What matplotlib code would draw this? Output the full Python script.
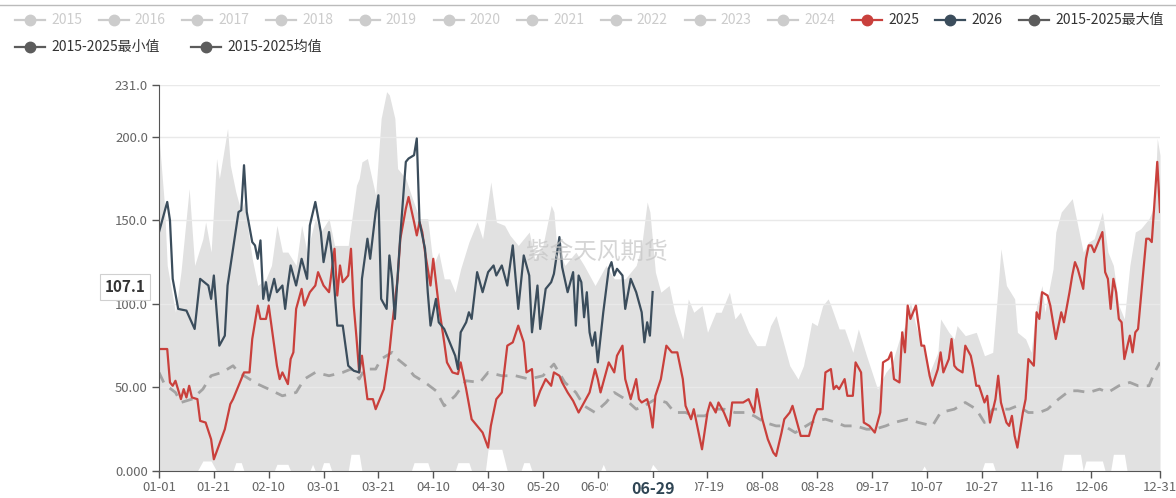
import matplotlib
matplotlib.use("Agg")
import matplotlib.pyplot as plt
from matplotlib.lines import Line2D
from matplotlib.patches import Rectangle
import numpy as np
import pandas as pd

plt.rcParams['font.family'] = ['Noto Sans CJK SC', 'DejaVu Sans']

# category axis: one leap year of month-day labels
dates = pd.date_range("2024-01-01", "2024-12-31").strftime("%m-%d").tolist()
tick_idx = list(range(0, 341, 20)) + [365]

y_ticks = [0, 50, 100, 150, 200, 231]
y_labels = ["0.000", "50.00", "100.0", "150.0", "200.0", "231.0"]

legend_years = ["2015", "2016", "2017", "2018", "2019", "2020", "2021", "2022", "2023", "2024"]

# 2025 (day index, value)
y2025_day = [0, 3, 4, 5, 6, 8, 9, 10, 11, 12, 14, 15, 17, 19, 20, 22, 24, 26, 27, 29, 31, 33, 34, 36, 37, 39,
             40, 41, 43, 44, 45, 47, 48, 49, 50, 52, 53, 55, 57, 58, 60, 62, 64, 65, 66, 67, 69, 70, 71, 72,
             73, 74, 76, 78, 79, 81, 82, 84, 85, 87, 88, 90, 91, 93, 94, 95, 96, 97, 99, 100, 102, 104, 105,
             107, 109, 110, 112, 114, 116, 118, 120, 121, 123, 125, 127, 129, 131, 133, 134, 136, 137, 139,
             141, 143, 144, 146, 147, 149, 151, 153, 155, 157, 159, 160, 161, 163, 164, 166, 167, 169, 170,
             172, 174, 175, 176, 178, 179, 180, 181, 183, 185, 187, 189, 191, 192, 194, 195, 198, 200, 201,
             203, 204, 206, 208, 209, 211, 213, 215, 217, 218, 220, 222, 224, 225, 227, 228, 230, 231, 233,
             234, 237, 239, 240, 242, 243, 245, 246, 247, 248, 250, 251, 253, 254, 256, 257, 259, 261, 263,
             264, 266, 267, 268, 270, 271, 272, 273, 274, 276, 278, 279, 281, 282, 284, 285, 286, 288, 289,
             290, 291, 293, 294, 296, 297, 298, 299, 301, 302, 303, 305, 306, 307, 309, 310, 311, 312, 313,
             315, 316, 317, 319, 320, 321, 322, 324, 325, 326, 327, 329, 330, 332, 333, 334, 335, 337, 338,
             339, 340, 341, 344, 345, 346, 347, 348, 349, 350, 351, 352, 354, 355, 356, 357, 360, 361, 362,
             364, 365]
y2025_val = [73, 73, 53, 51, 54, 43, 49, 44, 51, 44, 43, 30, 29, 19, 7, 16, 25, 40, 43, 51, 59, 59, 79, 99, 91, 91,
             99, 87, 63, 55, 59, 52, 67, 71, 97, 109, 99, 107, 111, 119, 111, 107, 133, 105, 123, 113, 117, 133, 99, 80,
             59, 69, 43, 43, 37, 45, 49, 71, 87, 115, 139, 157, 164, 149, 141, 149, 143, 131, 111, 127, 99, 77, 65,
             59, 58, 65, 49, 31, 27, 23, 14, 27, 43, 47, 75, 77, 87, 77, 59, 61, 39, 48,
             55, 51, 59, 57, 53, 47, 42, 35, 41, 47, 61, 55, 47, 59, 65, 59, 69, 75, 55,
             43, 55, 43, 41, 43, 37, 26, 45, 55, 75, 71, 71, 55, 39, 31, 37, 13, 35, 41,
             35, 41, 35, 27, 41, 41, 41, 43, 35, 49, 31, 19, 11, 9, 23, 31, 35, 39, 27,
             21, 21, 33, 37, 37, 59, 61, 49, 51, 49, 55, 45, 45, 65, 59, 29, 27, 23, 35,
             65, 67, 71, 55, 53, 83, 71, 99, 91, 99, 75, 75, 57, 51, 61, 71, 59, 67, 79,
             63, 61, 59, 75, 69, 61, 51, 51, 41, 45, 29, 43, 57, 41, 29, 27, 33, 21, 14,
             35, 43, 67, 63, 95, 91, 107, 105, 99, 89, 79, 95, 89, 107, 117, 125, 121, 109, 127,
             135, 135, 131, 143, 119, 115, 97, 115, 107, 91, 89, 67, 81, 71, 83, 85, 139, 139, 137,
             185, 155]

# 2026 (day index, value)
y2026_day = [0, 3, 4, 5, 7, 10, 13, 15, 18, 19, 20, 22, 24, 25, 29, 30, 31, 32, 34, 35, 36, 37, 38, 39, 40,
             42, 43, 45, 46, 47, 48, 50, 52, 54, 55, 57, 59, 60, 62, 63, 65, 67, 69, 71, 73, 74, 76, 77, 79,
             80, 81, 83, 84, 85, 86, 88, 90, 91, 93, 94, 95, 97, 98, 99, 101, 102, 104, 106, 108, 109, 110,
             112, 113, 114, 116, 118, 120, 122, 123, 125, 127, 129, 131, 133, 135, 136, 138, 139, 141, 143,
             144, 146, 147, 149, 151, 152, 153, 154, 155, 156, 157, 158, 159, 160, 162, 164, 165, 166, 167,
             169, 170, 172, 174, 176, 177, 178, 179, 180]
y2026_val = [143, 161, 150, 115, 97, 96, 85, 115, 111, 103, 117, 75, 81, 111, 155, 156, 183, 155, 137, 135, 127, 138, 103, 113, 102,
             115, 107, 111, 97, 111, 123, 111, 127, 115, 147, 161, 143, 125, 143, 130, 87, 87, 63, 60, 59, 115, 139, 127, 155,
             165, 103, 97, 129, 115, 91, 141, 185, 187, 189, 199, 149, 133, 107, 87, 103, 89, 85, 77, 69, 61, 83,
             89, 95, 91, 119, 107, 119, 123, 117, 123, 111, 135, 97, 129, 117, 83, 111, 85, 109, 113,
             118, 140, 122, 107, 119, 87, 117, 113, 92, 107, 83, 75, 83, 65, 95, 121, 125, 117, 121,
             117, 97, 115, 107, 95, 77, 89, 81, 107.1]

# 2015-2025 mean
mean_day = [0, 2, 6, 8, 12, 16, 19, 23, 27, 29, 33, 36, 40, 45, 50, 53, 57, 62, 67, 70, 73, 75, 79, 81, 85, 87,
            90, 93, 97, 101, 104, 108, 112, 117, 120, 125, 130, 135, 140, 144, 148, 152, 155, 159, 163, 166,
            170, 174, 177, 181, 185, 188, 192, 195, 199, 203, 206, 210, 214, 217, 221, 225, 228, 232, 236,
            239, 243, 247, 250, 254, 258, 261, 265, 268, 273, 277, 282, 285, 290, 294, 298, 301, 304, 306,
            310, 313, 317, 321, 324, 328, 332, 335, 339, 343, 346, 350, 354, 357, 361, 363, 365]
mean_val = [59, 52, 47, 41, 43, 49, 57, 59, 63, 59, 55, 52, 49, 45, 47, 55, 59, 57, 59, 61, 55, 61, 61, 67, 71, 67,
            63, 57, 53, 48, 39, 45, 54, 53, 59, 57, 57, 55, 57, 64, 53, 47, 39, 35, 41, 47,
            43, 37, 39, 43, 41, 35, 35, 33, 33, 37, 37, 35, 35, 33, 29, 27, 27, 23, 27,
            30, 31, 29, 27, 27, 25, 25, 27, 29, 31, 29, 27, 35, 37, 41, 37, 29, 37, 37,
            37, 39, 35, 35, 37, 43, 48, 48, 47, 49, 47, 51, 53, 51, 51, 59, 65]

# 2015-2025 max
max_day = [0, 2, 3, 6, 8, 11, 13, 16, 17, 19, 21, 22, 23, 25, 26, 28, 30, 31, 34, 36, 39, 41, 43, 45, 47, 50, 52,
           54, 57, 59, 62, 64, 67, 69, 72, 73, 74, 76, 79, 81, 83, 84, 86, 87, 90, 92, 95, 98, 100, 102, 104,
           106, 108, 110, 113, 116, 118, 121, 123, 126, 128, 131, 135, 137, 140, 143, 144, 145, 148, 152, 155,
           159, 163, 166, 170, 174, 176, 178, 179, 181, 183, 186, 188, 191, 193, 195, 198, 200, 203, 205, 208,
           210, 212, 215, 218, 221, 223, 225, 228, 230, 233, 235, 238, 240, 242, 244, 245, 248, 250, 253, 255,
           258, 260, 262, 265, 267, 270, 272, 274, 276, 279, 281, 284, 285, 288, 290, 291, 294, 298, 301, 304,
           306, 307, 309, 312, 313, 316, 318, 320, 322, 323, 326, 327, 329, 331, 333, 335, 337, 339, 341, 344,
           346, 348, 350, 352, 354, 356, 358, 361, 363, 364, 365]
max_val = [200, 159, 123, 95, 119, 169, 123, 139, 149, 131, 187, 175, 185, 205, 183, 167, 155, 161, 127, 111, 115, 123, 147, 131, 131, 123, 147,
           131, 151, 143, 151, 135, 135, 135, 171, 175, 185, 187, 165, 211, 227, 225, 211, 181, 175, 165, 151, 151, 123, 131, 115,
           115, 107, 121, 137, 149, 139, 173, 149, 147, 141, 135, 143, 127, 135, 159, 155, 135, 123, 131, 123,
           111, 123, 115, 115, 123, 135, 161, 155, 119, 107, 111, 95, 79, 103, 95, 99, 83, 95, 95, 107,
           91, 95, 83, 75, 75, 87, 93, 75, 63, 55, 63, 89, 87, 99, 103, 99, 85, 85, 71, 85,
           69, 59, 49, 59, 63, 79, 87, 101, 87, 71, 59, 71, 91, 83, 79, 87, 81, 83, 69, 71,
           111, 133, 111, 103, 83, 79, 71, 99, 111, 95, 121, 143, 155, 159, 163, 147, 131, 137, 139, 155,
           131, 123, 99, 91, 123, 143, 145, 151, 159, 199, 189]

# 2015-2025 min
min_day = [0, 14, 16, 19, 21, 27, 28, 30, 31, 42, 43, 47, 48, 55, 56, 57, 59, 60, 62, 63, 69, 70, 73, 74, 92, 93,
           98, 99, 108, 109, 113, 114, 119, 120, 125, 127, 132, 133, 135, 136, 161, 162, 163, 179, 180, 182,
           278, 279, 280, 300, 301, 304, 305, 329, 330, 336, 337, 338, 344, 345, 347, 348, 352, 353, 365]
min_val = [0, 0, 6, 6, 0, 0, 5, 5, 0, 0, 4, 4, 0, 0, 4, 0, 0, 5, 5, 0, 0, 10, 10, 0, 0, 5,
           5, 0, 0, 5, 5, 0, 0, 13, 13, 0, 0, 5, 5, 0, 0, 4, 0, 0, 4, 0,
           0, 3, 0, 0, 5, 5, 0, 0, 10, 10, 0, 6, 6, 0, 0, 10, 10, 0, 0]

c2025 = "#c9403c"
c2026 = "#3b4d5c"
c_mean = "#a3a3a3"
c_fill = "#e1e1e1"

W, H = 1176, 498
fig = plt.figure(figsize=(W / 100, H / 100), dpi=100)
ax = fig.add_axes([159 / W, 27 / H, 1001 / W, 386 / H])

ax.fill_between(max_day, 0, max_val, color=c_fill, lw=0, zorder=1)
ax.fill_between(min_day, 0, min_val, color="white", lw=0, zorder=1.5)
for v in y_ticks[1:]:
    ax.axhline(v, color="#e9e9e9", lw=1, zorder=2)
ax.plot(mean_day, mean_val, color=c_mean, lw=2, dashes=(4, 3), zorder=3)
ax.plot(y2025_day, y2025_val, color=c2025, lw=1.6, zorder=4)
ax.plot(y2026_day, y2026_val, color=c2026, lw=1.6, zorder=5)

ax.set_xlim(0, 365)
ax.set_ylim(0, 231)
ax.set_xticks(tick_idx)
ax.set_xticklabels([dates[i] for i in tick_idx])
ax.set_yticks(y_ticks)
ax.set_yticklabels(y_labels)
ax.tick_params(axis="both", colors="#555555", labelsize=9.5, length=5, width=1)
ax.tick_params(axis="x", pad=2.5, labelcolor="#666666")
ax.tick_params(axis="y", pad=3, labelcolor="#666666")
for s in ["top", "right"]:
    ax.spines[s].set_visible(False)
for s in ["left", "bottom"]:
    ax.spines[s].set_color("#555555")
    ax.spines[s].set_zorder(6)

# watermark
ax.text(0.4376, 0.567, "紫金天风期货", transform=ax.transAxes, ha="center", va="center",
        fontsize=17, color="#c4c4c4", alpha=0.7, zorder=6)

# axis pointer labels: the white label box hides part of the neighbouring tick labels
last_day = y2026_day[-1]
px = fig.transFigure.inverted().transform(ax.transData.transform((last_day, 0)))[0] * W
fig.add_artist(Rectangle(((px - 45) / W, 0), 87 / W, 20 / H, transform=fig.transFigure,
                         fc="white", ec="none", zorder=5))
fig.text(px / W, 1 - 489 / H, dates[last_day], ha="center", va="center", fontsize=11.5,
         fontweight="bold", color="#2f4554", zorder=10)
fig.text(125 / W, 1 - 287 / H, f"{y2026_val[-1]:.1f}", ha="center", va="center", fontsize=11,
         fontweight="bold", color="#333333", zorder=10,
         bbox=dict(boxstyle="square,pad=0.3", fc="white", ec="#d0d0d0", lw=0.8))

# top border line
fig.add_artist(Line2D([0, 1], [1 - 5 / H, 1 - 5 / H], transform=fig.transFigure, color="#bbbbbb", lw=1))


def legend_item(x, y, color, label, textcolor):
    fy = 1 - y / H
    fig.add_artist(Line2D([x / W, (x + 30) / W], [fy, fy], transform=fig.transFigure, color=color, lw=1.6))
    fig.add_artist(Line2D([(x + 15) / W], [fy], transform=fig.transFigure, color=color,
                          marker="o", markersize=7.5, lw=0))
    fig.text((x + 36) / W, fy, label, ha="left", va="center", fontsize=10, color=textcolor)


for i, yr in enumerate(legend_years):
    legend_item(15 + 83.7 * i, 20, "#cccccc", yr, "#cccccc")
legend_item(852, 20, c2025, "2025", "#333333")
legend_item(935, 20, c2026, "2026", "#333333")
legend_item(1019, 20, "#5c5c5c", "2015-2025最大值", "#333333")
legend_item(15, 47, "#5c5c5c", "2015-2025最小值", "#333333")
legend_item(191, 47, "#5c5c5c", "2015-2025均值", "#333333")

fig.savefig("out.png", dpi=100)
